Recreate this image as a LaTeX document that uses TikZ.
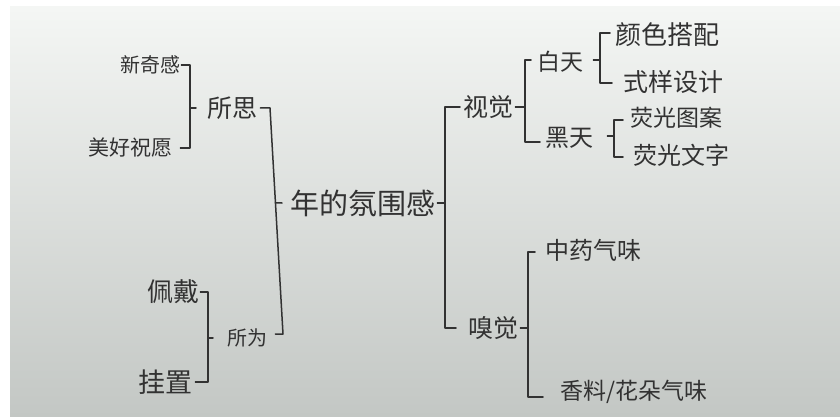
\documentclass[tikz,border=0pt]{standalone}
\usepackage{fontspec}
\usetikzlibrary{calc}
\newfontfamily\cjk{Noto Sans CJK SC}
\definecolor{inkc}{HTML}{323232}
\definecolor{papertop}{HTML}{F4F6F4}
\definecolor{papermid}{HTML}{E1E4E2}
\definecolor{paperbot}{HTML}{C3C7C4}
\tikzset{
  lbl/.style={inner sep=0pt, anchor=west, text=inkc, font=\cjk\fontsize{#1}{#1}\selectfont},
  br/.style={draw=inkc, line width=1.5pt, line join=round, line cap=round}
}
\begin{document}
\begin{tikzpicture}[x=1pt,y=-1pt]
\useasboundingbox (0,0) rectangle (840,417);
\fill[white] (0,0) rectangle (840,417);
\shade[top color=papertop, middle color=papermid, bottom color=paperbot] (10,7) rectangle (840,417);

% nodes
\node[lbl=20] (xqg) at (120,65) {新奇感};
\node[lbl=21] (mhzy) at (88,148) {美好祝愿};
\node[lbl=25] (ss) at (207,108) {所思};
\node[lbl=26] (pd) at (147,292) {佩戴};
\node[lbl=27] (gz) at (138,382) {挂置};
\node[lbl=20] (sw) at (227,338) {所为};
\node[lbl=29] (root) at (290,203) {年的氛围感};
\node[lbl=25] (sj) at (463,107) {视觉};
\node[lbl=25] (xj) at (468,328) {嗅觉};
\node[lbl=23] (bt) at (537,62) {白天};
\node[lbl=24] (ht) at (545,138) {黑天};
\node[lbl=26] (ysdp) at (615,35) {颜色搭配};
\node[lbl=25] (ysjj) at (623,82) {式样设计};
\node[lbl=23] (yga) at (630,118) {荧光图案};
\node[lbl=24] (ygw) at (633,155) {荧光文字};
\node[lbl=24] (zyqw) at (545,250) {中药气味};
\node[lbl=23] (xlqw) at (560,392) {香料/花朵气味};

% bracket coordinates
\coordinate (b1) at (190,0);
\coordinate (b2t) at (270,108);
\coordinate (b2b) at (283,334);
\coordinate (b3) at (445,0);
\coordinate (b4) at (525,0);
\coordinate (b5) at (600,0);
\coordinate (b6) at (614,0);
\coordinate (b7) at (528,0);
\coordinate (b8) at (208,0);

% 所思
\draw[br] ([xshift=1pt]xqg.east) -- (xqg.east -| b1) -- (mhzy.east -| b1) -- ([xshift=8pt]mhzy.east);
\draw[br] (b1 |- ss.west) -- ([xshift=-11pt]ss.west);
% 所为
\draw[br] ([xshift=1pt]pd.east) -- (pd.east -| b8) -- (gz.east -| b8) -- ([xshift=3pt]gz.east);
\draw[br] (b8 |- sw.west) -- ([xshift=-14pt]sw.west);
% root left
\draw[br] ([xshift=3pt]ss.east) -- (b2t) -- (b2b) -- ([xshift=8pt]sw.east |- b2b);
\draw[br] ($(b2t)!0.42!(b2b)$) -- ([xshift=-8pt]root.west);
% root right
\draw[br] ([xshift=2pt]root.east) -- (root.east -| b3);
\draw[br] ([xshift=-3pt]sj.west) -- (sj.west -| b3) -- (xj.west -| b3) -- ([xshift=-12pt]xj.west);
% 视觉
\draw[br] ([xshift=2pt]sj.east) -- (sj.east -| b4);
\draw[br] ([xshift=-6pt]bt.west |- 0,60) -- (b4 |- 0,60) -- (b4 |- 0,142) -- ([xshift=-5pt]ht.west |- 0,142);
% 白天
\draw[br] ([xshift=10pt]bt.east |- 0,60) -- (b5 |- 0,60);
\draw[br] ([xshift=-5pt]ysdp.west |- 0,33) -- (b5 |- 0,33) -- (b5 |- 0,83) -- ([xshift=-11pt]ysjj.west |- 0,83);
% 黑天
\draw[br] ([xshift=14pt]ht.east |- 0,136) -- (b6 |- 0,136);
\draw[br] ([xshift=-7pt]yga.west |- 0,120) -- (b6 |- 0,120) -- (b6 |- 0,157) -- ([xshift=-10pt]ygw.west |- 0,157);
% 嗅觉
\draw[br] ([xshift=2pt]xj.east) -- (xj.east -| b7);
\draw[br] ([xshift=-10pt]zyqw.west |- 0,252) -- (b7 |- 0,252) -- (b7 |- 0,397) -- ([xshift=-17pt]xlqw.west |- 0,397);
\end{tikzpicture}
\end{document}
